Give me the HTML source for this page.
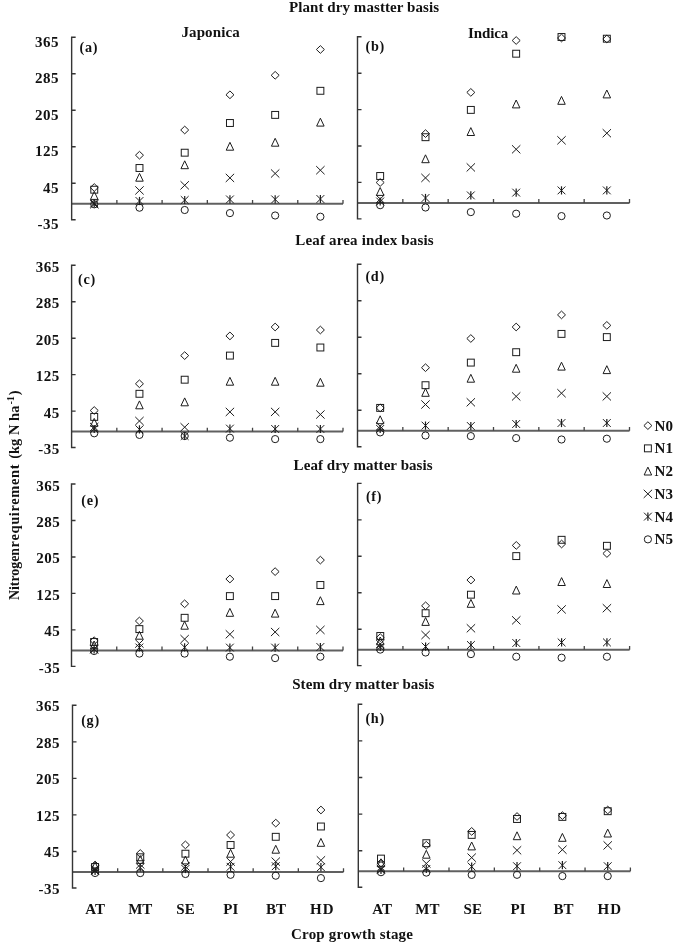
<!DOCTYPE html>
<html><head><meta charset="utf-8"><style>
html,body{margin:0;padding:0;background:#fff;}
svg{display:block;will-change:transform;}
text{font-family:"Liberation Serif", serif;font-weight:bold;fill:#111;}
.m{fill:none;stroke:#1c1c1c;stroke-width:1.0;}
.ax{fill:none;stroke:#353535;stroke-width:1.4;}
.zl{fill:none;stroke:#606060;stroke-width:2;}
.xt{fill:none;stroke:#444;stroke-width:1.3;}
</style></head><body>
<svg width="685" height="944" viewBox="0 0 685 944">

<path d="M71.65 203.85H343.00" class="zl"/>
<path d="M116.88 203.85V200.05M162.10 203.85V200.05M207.33 203.85V200.05M252.55 203.85V200.05M297.77 203.85V200.05M343.00 203.85V200.05" class="xt"/>
<path d="M75.65 37.30H71.65V219.82H75.65M71.65 73.80H75.65M71.65 110.31H75.65M71.65 146.81H75.65M71.65 183.32H75.65" class="ax"/>
<path d="M94.26 183.65L98.26 187.50L94.26 191.35L90.26 187.50Z" class="m"/>
<rect x="90.81" y="186.25" width="6.9" height="6.9" class="m"/>
<path d="M94.26 191.50L98.01 199.40L90.51 199.40Z" class="m"/>
<path d="M90.06 200.20L98.46 208.40M98.46 200.20L90.06 208.40" class="m"/>
<path d="M90.36 199.40L98.16 207.20M98.16 199.40L90.36 207.20" class="m"/><path d="M94.26 199.20L94.26 207.40" class="m" style="stroke-width:1.2"/>
<circle cx="94.26" cy="204.30" r="3.6" class="m"/>
<path d="M139.49 151.35L143.49 155.20L139.49 159.05L135.49 155.20Z" class="m"/>
<rect x="136.04" y="164.55" width="6.9" height="6.9" class="m"/>
<path d="M139.49 173.30L143.24 181.20L135.74 181.20Z" class="m"/>
<path d="M135.29 186.30L143.69 194.50M143.69 186.30L135.29 194.50" class="m"/>
<path d="M135.59 197.10L143.39 204.90M143.39 197.10L135.59 204.90" class="m"/><path d="M139.49 196.90L139.49 205.10" class="m" style="stroke-width:1.2"/>
<circle cx="139.49" cy="207.70" r="3.6" class="m"/>
<path d="M184.71 126.15L188.71 130.00L184.71 133.85L180.71 130.00Z" class="m"/>
<rect x="181.26" y="149.25" width="6.9" height="6.9" class="m"/>
<path d="M184.71 160.80L188.46 168.70L180.96 168.70Z" class="m"/>
<path d="M180.51 181.20L188.91 189.40M188.91 181.20L180.51 189.40" class="m"/>
<path d="M180.81 196.10L188.61 203.90M188.61 196.10L180.81 203.90" class="m"/><path d="M184.71 195.90L184.71 204.10" class="m" style="stroke-width:1.2"/>
<circle cx="184.71" cy="210.00" r="3.6" class="m"/>
<path d="M229.94 90.95L233.94 94.80L229.94 98.65L225.94 94.80Z" class="m"/>
<rect x="226.49" y="119.55" width="6.9" height="6.9" class="m"/>
<path d="M229.94 142.30L233.69 150.20L226.19 150.20Z" class="m"/>
<path d="M225.74 173.80L234.14 182.00M234.14 173.80L225.74 182.00" class="m"/>
<path d="M226.04 195.50L233.84 203.30M233.84 195.50L226.04 203.30" class="m"/><path d="M229.94 195.30L229.94 203.50" class="m" style="stroke-width:1.2"/>
<circle cx="229.94" cy="213.10" r="3.6" class="m"/>
<path d="M275.16 71.45L279.16 75.30L275.16 79.15L271.16 75.30Z" class="m"/>
<rect x="271.71" y="111.45" width="6.9" height="6.9" class="m"/>
<path d="M275.16 138.30L278.91 146.20L271.41 146.20Z" class="m"/>
<path d="M270.96 169.40L279.36 177.60M279.36 169.40L270.96 177.60" class="m"/>
<path d="M271.26 195.50L279.06 203.30M279.06 195.50L271.26 203.30" class="m"/><path d="M275.16 195.30L275.16 203.50" class="m" style="stroke-width:1.2"/>
<circle cx="275.16" cy="215.50" r="3.6" class="m"/>
<path d="M320.39 45.65L324.39 49.50L320.39 53.35L316.39 49.50Z" class="m"/>
<rect x="316.94" y="87.35" width="6.9" height="6.9" class="m"/>
<path d="M320.39 118.20L324.14 126.10L316.64 126.10Z" class="m"/>
<path d="M316.19 166.10L324.59 174.30M324.59 166.10L316.19 174.30" class="m"/>
<path d="M316.49 195.10L324.29 202.90M324.29 195.10L316.49 202.90" class="m"/><path d="M320.39 194.90L320.39 203.10" class="m" style="stroke-width:1.2"/>
<circle cx="320.39" cy="216.70" r="3.6" class="m"/>
<text x="79.5" y="51.9" font-size="14.2" letter-spacing="0.7">(a)</text>
<text x="59.10" y="46.80" font-size="15" letter-spacing="0.5" text-anchor="end">365</text>
<text x="59.10" y="83.30" font-size="15" letter-spacing="0.5" text-anchor="end">285</text>
<text x="59.10" y="119.81" font-size="15" letter-spacing="0.5" text-anchor="end">205</text>
<text x="59.10" y="156.31" font-size="15" letter-spacing="0.5" text-anchor="end">125</text>
<text x="59.10" y="192.82" font-size="15" letter-spacing="0.5" text-anchor="end">45</text>
<text x="59.10" y="229.32" font-size="15" letter-spacing="0.5" text-anchor="end">-35</text>
<path d="M357.50 202.90H629.50" class="zl"/>
<path d="M402.83 202.90V199.10M448.17 202.90V199.10M493.50 202.90V199.10M538.83 202.90V199.10M584.17 202.90V199.10M629.50 202.90V199.10" class="xt"/>
<path d="M361.50 36.80H357.50V218.83H361.50M357.50 73.21H361.50M357.50 109.61H361.50M357.50 146.02H361.50M357.50 182.42H361.50" class="ax"/>
<path d="M380.17 178.65L384.17 182.50L380.17 186.35L376.17 182.50Z" class="m"/>
<rect x="376.72" y="172.55" width="6.9" height="6.9" class="m"/>
<path d="M380.17 187.50L383.92 195.40L376.42 195.40Z" class="m"/>
<path d="M375.97 194.90L384.37 203.10M384.37 194.90L375.97 203.10" class="m"/>
<path d="M376.27 197.60L384.07 205.40M384.07 197.60L376.27 205.40" class="m"/><path d="M380.17 197.40L380.17 205.60" class="m" style="stroke-width:1.2"/>
<circle cx="380.17" cy="205.20" r="3.6" class="m"/>
<path d="M425.50 129.75L429.50 133.60L425.50 137.45L421.50 133.60Z" class="m"/>
<rect x="422.05" y="133.75" width="6.9" height="6.9" class="m"/>
<path d="M425.50 154.80L429.25 162.70L421.75 162.70Z" class="m"/>
<path d="M421.30 173.80L429.70 182.00M429.70 173.80L421.30 182.00" class="m"/>
<path d="M421.60 194.10L429.40 201.90M429.40 194.10L421.60 201.90" class="m"/><path d="M425.50 193.90L425.50 202.10" class="m" style="stroke-width:1.2"/>
<circle cx="425.50" cy="207.50" r="3.6" class="m"/>
<path d="M470.83 88.55L474.83 92.40L470.83 96.25L466.83 92.40Z" class="m"/>
<rect x="467.38" y="106.45" width="6.9" height="6.9" class="m"/>
<path d="M470.83 127.60L474.58 135.50L467.08 135.50Z" class="m"/>
<path d="M466.63 163.30L475.03 171.50M475.03 163.30L466.63 171.50" class="m"/>
<path d="M466.93 191.50L474.73 199.30M474.73 191.50L466.93 199.30" class="m"/><path d="M470.83 191.30L470.83 199.50" class="m" style="stroke-width:1.2"/>
<circle cx="470.83" cy="212.10" r="3.6" class="m"/>
<path d="M516.17 36.65L520.17 40.50L516.17 44.35L512.17 40.50Z" class="m"/>
<rect x="512.72" y="50.25" width="6.9" height="6.9" class="m"/>
<path d="M516.17 100.00L519.92 107.90L512.42 107.90Z" class="m"/>
<path d="M511.97 145.20L520.37 153.40M520.37 145.20L511.97 153.40" class="m"/>
<path d="M512.27 188.70L520.07 196.50M520.07 188.70L512.27 196.50" class="m"/><path d="M516.17 188.50L516.17 196.70" class="m" style="stroke-width:1.2"/>
<circle cx="516.17" cy="213.70" r="3.6" class="m"/>
<path d="M561.50 34.15L565.50 38.00L561.50 41.85L557.50 38.00Z" class="m"/>
<rect x="558.05" y="33.55" width="6.9" height="6.9" class="m"/>
<path d="M561.50 96.40L565.25 104.30L557.75 104.30Z" class="m"/>
<path d="M557.30 136.20L565.70 144.40M565.70 136.20L557.30 144.40" class="m"/>
<path d="M557.60 186.50L565.40 194.30M565.40 186.50L557.60 194.30" class="m"/><path d="M561.50 186.30L561.50 194.50" class="m" style="stroke-width:1.2"/>
<circle cx="561.50" cy="216.10" r="3.6" class="m"/>
<path d="M606.83 35.15L610.83 39.00L606.83 42.85L602.83 39.00Z" class="m"/>
<rect x="603.38" y="35.25" width="6.9" height="6.9" class="m"/>
<path d="M606.83 90.00L610.58 97.90L603.08 97.90Z" class="m"/>
<path d="M602.63 129.10L611.03 137.30M611.03 129.10L602.63 137.30" class="m"/>
<path d="M602.93 186.50L610.73 194.30M610.73 186.50L602.93 194.30" class="m"/><path d="M606.83 186.30L606.83 194.50" class="m" style="stroke-width:1.2"/>
<circle cx="606.83" cy="215.50" r="3.6" class="m"/>
<text x="365.6" y="51.2" font-size="14.2" letter-spacing="0.7">(b)</text>
<path d="M71.60 431.60H343.00" class="zl"/>
<path d="M116.83 431.60V427.80M162.07 431.60V427.80M207.30 431.60V427.80M252.53 431.60V427.80M297.77 431.60V427.80M343.00 431.60V427.80" class="xt"/>
<path d="M75.60 265.30H71.60V447.55H75.60M71.60 301.75H75.60M71.60 338.20H75.60M71.60 374.65H75.60M71.60 411.10H75.60" class="ax"/>
<path d="M94.22 406.65L98.22 410.50L94.22 414.35L90.22 410.50Z" class="m"/>
<rect x="90.77" y="413.45" width="6.9" height="6.9" class="m"/>
<path d="M94.22 418.40L97.97 426.30L90.47 426.30Z" class="m"/>
<path d="M90.02 422.90L98.42 431.10M98.42 422.90L90.02 431.10" class="m"/>
<path d="M90.32 425.10L98.12 432.90M98.12 425.10L90.32 432.90" class="m"/><path d="M94.22 424.90L94.22 433.10" class="m" style="stroke-width:1.2"/>
<circle cx="94.22" cy="433.30" r="3.6" class="m"/>
<path d="M139.45 379.95L143.45 383.80L139.45 387.65L135.45 383.80Z" class="m"/>
<rect x="136.00" y="390.35" width="6.9" height="6.9" class="m"/>
<path d="M139.45 400.90L143.20 408.80L135.70 408.80Z" class="m"/>
<path d="M135.25 416.90L143.65 425.10M143.65 416.90L135.25 425.10" class="m"/>
<path d="M135.55 425.50L143.35 433.30M143.35 425.50L135.55 433.30" class="m"/><path d="M139.45 425.30L139.45 433.50" class="m" style="stroke-width:1.2"/>
<circle cx="139.45" cy="434.90" r="3.6" class="m"/>
<path d="M184.68 351.75L188.68 355.60L184.68 359.45L180.68 355.60Z" class="m"/>
<rect x="181.23" y="376.25" width="6.9" height="6.9" class="m"/>
<path d="M184.68 397.90L188.43 405.80L180.93 405.80Z" class="m"/>
<path d="M180.48 423.10L188.88 431.30M188.88 423.10L180.48 431.30" class="m"/>
<path d="M180.78 432.10L188.58 439.90M188.58 432.10L180.78 439.90" class="m"/><path d="M184.68 431.90L184.68 440.10" class="m" style="stroke-width:1.2"/>
<circle cx="184.68" cy="436.00" r="3.6" class="m"/>
<path d="M229.92 332.05L233.92 335.90L229.92 339.75L225.92 335.90Z" class="m"/>
<rect x="226.47" y="352.15" width="6.9" height="6.9" class="m"/>
<path d="M229.92 377.30L233.67 385.20L226.17 385.20Z" class="m"/>
<path d="M225.72 407.80L234.12 416.00M234.12 407.80L225.72 416.00" class="m"/>
<path d="M226.02 424.70L233.82 432.50M233.82 424.70L226.02 432.50" class="m"/><path d="M229.92 424.50L229.92 432.70" class="m" style="stroke-width:1.2"/>
<circle cx="229.92" cy="437.70" r="3.6" class="m"/>
<path d="M275.15 323.15L279.15 327.00L275.15 330.85L271.15 327.00Z" class="m"/>
<rect x="271.70" y="339.45" width="6.9" height="6.9" class="m"/>
<path d="M275.15 377.30L278.90 385.20L271.40 385.20Z" class="m"/>
<path d="M270.95 407.80L279.35 416.00M279.35 407.80L270.95 416.00" class="m"/>
<path d="M271.25 425.10L279.05 432.90M279.05 425.10L271.25 432.90" class="m"/><path d="M275.15 424.90L275.15 433.10" class="m" style="stroke-width:1.2"/>
<circle cx="275.15" cy="439.10" r="3.6" class="m"/>
<path d="M320.38 326.15L324.38 330.00L320.38 333.85L316.38 330.00Z" class="m"/>
<rect x="316.93" y="344.05" width="6.9" height="6.9" class="m"/>
<path d="M320.38 378.30L324.13 386.20L316.63 386.20Z" class="m"/>
<path d="M316.18 410.40L324.58 418.60M324.58 410.40L316.18 418.60" class="m"/>
<path d="M316.48 425.10L324.28 432.90M324.28 425.10L316.48 432.90" class="m"/><path d="M320.38 424.90L320.38 433.10" class="m" style="stroke-width:1.2"/>
<circle cx="320.38" cy="439.10" r="3.6" class="m"/>
<text x="78.0" y="283.5" font-size="14.2" letter-spacing="0.7">(c)</text>
<text x="59.80" y="271.70" font-size="15" letter-spacing="0.5" text-anchor="end">365</text>
<text x="59.80" y="308.15" font-size="15" letter-spacing="0.5" text-anchor="end">285</text>
<text x="59.80" y="344.60" font-size="15" letter-spacing="0.5" text-anchor="end">205</text>
<text x="59.80" y="381.05" font-size="15" letter-spacing="0.5" text-anchor="end">125</text>
<text x="59.80" y="417.50" font-size="15" letter-spacing="0.5" text-anchor="end">45</text>
<text x="59.80" y="453.95" font-size="15" letter-spacing="0.5" text-anchor="end">-35</text>
<path d="M357.50 430.80H629.50" class="zl"/>
<path d="M402.83 430.80V427.00M448.17 430.80V427.00M493.50 430.80V427.00M538.83 430.80V427.00M584.17 430.80V427.00M629.50 430.80V427.00" class="xt"/>
<path d="M361.50 264.30H357.50V446.77H361.50M357.50 300.79H361.50M357.50 337.29H361.50M357.50 373.78H361.50M357.50 410.27H361.50" class="ax"/>
<path d="M380.17 404.05L384.17 407.90L380.17 411.75L376.17 407.90Z" class="m"/>
<rect x="376.72" y="404.45" width="6.9" height="6.9" class="m"/>
<path d="M380.17 415.80L383.92 423.70L376.42 423.70Z" class="m"/>
<path d="M375.97 422.20L384.37 430.40M384.37 422.20L375.97 430.40" class="m"/>
<path d="M376.27 425.10L384.07 432.90M384.07 425.10L376.27 432.90" class="m"/><path d="M380.17 424.90L380.17 433.10" class="m" style="stroke-width:1.2"/>
<circle cx="380.17" cy="432.40" r="3.6" class="m"/>
<path d="M425.50 363.85L429.50 367.70L425.50 371.55L421.50 367.70Z" class="m"/>
<rect x="422.05" y="381.75" width="6.9" height="6.9" class="m"/>
<path d="M425.50 388.40L429.25 396.30L421.75 396.30Z" class="m"/>
<path d="M421.30 400.40L429.70 408.60M429.70 400.40L421.30 408.60" class="m"/>
<path d="M421.60 421.70L429.40 429.50M429.40 421.70L421.60 429.50" class="m"/><path d="M425.50 421.50L425.50 429.70" class="m" style="stroke-width:1.2"/>
<circle cx="425.50" cy="435.50" r="3.6" class="m"/>
<path d="M470.83 334.65L474.83 338.50L470.83 342.35L466.83 338.50Z" class="m"/>
<rect x="467.38" y="359.15" width="6.9" height="6.9" class="m"/>
<path d="M470.83 374.30L474.58 382.20L467.08 382.20Z" class="m"/>
<path d="M466.63 398.20L475.03 406.40M475.03 398.20L466.63 406.40" class="m"/>
<path d="M466.93 422.10L474.73 429.90M474.73 422.10L466.93 429.90" class="m"/><path d="M470.83 421.90L470.83 430.10" class="m" style="stroke-width:1.2"/>
<circle cx="470.83" cy="436.10" r="3.6" class="m"/>
<path d="M516.17 323.15L520.17 327.00L516.17 330.85L512.17 327.00Z" class="m"/>
<rect x="512.72" y="348.75" width="6.9" height="6.9" class="m"/>
<path d="M516.17 364.30L519.92 372.20L512.42 372.20Z" class="m"/>
<path d="M511.97 392.30L520.37 400.50M520.37 392.30L511.97 400.50" class="m"/>
<path d="M512.27 420.10L520.07 427.90M520.07 420.10L512.27 427.90" class="m"/><path d="M516.17 419.90L516.17 428.10" class="m" style="stroke-width:1.2"/>
<circle cx="516.17" cy="438.10" r="3.6" class="m"/>
<path d="M561.50 311.05L565.50 314.90L561.50 318.75L557.50 314.90Z" class="m"/>
<rect x="558.05" y="330.45" width="6.9" height="6.9" class="m"/>
<path d="M561.50 362.20L565.25 370.10L557.75 370.10Z" class="m"/>
<path d="M557.30 389.10L565.70 397.30M565.70 389.10L557.30 397.30" class="m"/>
<path d="M557.60 419.10L565.40 426.90M565.40 419.10L557.60 426.90" class="m"/><path d="M561.50 418.90L561.50 427.10" class="m" style="stroke-width:1.2"/>
<circle cx="561.50" cy="439.50" r="3.6" class="m"/>
<path d="M606.83 321.55L610.83 325.40L606.83 329.25L602.83 325.40Z" class="m"/>
<rect x="603.38" y="333.65" width="6.9" height="6.9" class="m"/>
<path d="M606.83 365.70L610.58 373.60L603.08 373.60Z" class="m"/>
<path d="M602.63 392.30L611.03 400.50M611.03 392.30L602.63 400.50" class="m"/>
<path d="M602.93 419.10L610.73 426.90M610.73 419.10L602.93 426.90" class="m"/><path d="M606.83 418.90L606.83 427.10" class="m" style="stroke-width:1.2"/>
<circle cx="606.83" cy="438.70" r="3.6" class="m"/>
<text x="365.4" y="281.2" font-size="14.2" letter-spacing="0.7">(d)</text>
<path d="M71.50 650.40H343.00" class="zl"/>
<path d="M116.75 650.40V646.60M162.00 650.40V646.60M207.25 650.40V646.60M252.50 650.40V646.60M297.75 650.40V646.60M343.00 650.40V646.60" class="xt"/>
<path d="M75.50 484.00H71.50V666.36H75.50M71.50 520.47H75.50M71.50 556.94H75.50M71.50 593.41H75.50M71.50 629.88H75.50" class="ax"/>
<path d="M94.12 636.85L98.12 640.70L94.12 644.55L90.12 640.70Z" class="m"/>
<rect x="90.67" y="638.55" width="6.9" height="6.9" class="m"/>
<path d="M94.12 641.00L97.88 648.90L90.38 648.90Z" class="m"/>
<path d="M89.92 644.90L98.33 653.10M98.33 644.90L89.92 653.10" class="m"/>
<path d="M90.22 645.60L98.03 653.40M98.03 645.60L90.22 653.40" class="m"/><path d="M94.12 645.40L94.12 653.60" class="m" style="stroke-width:1.2"/>
<circle cx="94.12" cy="651.00" r="3.6" class="m"/>
<path d="M139.38 617.15L143.38 621.00L139.38 624.85L135.38 621.00Z" class="m"/>
<rect x="135.93" y="625.65" width="6.9" height="6.9" class="m"/>
<path d="M139.38 631.30L143.12 639.20L135.62 639.20Z" class="m"/>
<path d="M135.18 639.50L143.57 647.70M143.57 639.50L135.18 647.70" class="m"/>
<path d="M135.47 643.60L143.28 651.40M143.28 643.60L135.47 651.40" class="m"/><path d="M139.38 643.40L139.38 651.60" class="m" style="stroke-width:1.2"/>
<circle cx="139.38" cy="653.60" r="3.6" class="m"/>
<path d="M184.62 599.95L188.62 603.80L184.62 607.65L180.62 603.80Z" class="m"/>
<rect x="181.18" y="614.35" width="6.9" height="6.9" class="m"/>
<path d="M184.62 621.30L188.38 629.20L180.88 629.20Z" class="m"/>
<path d="M180.43 635.00L188.82 643.20M188.82 635.00L180.43 643.20" class="m"/>
<path d="M180.72 643.40L188.53 651.20M188.53 643.40L180.72 651.20" class="m"/><path d="M184.62 643.20L184.62 651.40" class="m" style="stroke-width:1.2"/>
<circle cx="184.62" cy="653.60" r="3.6" class="m"/>
<path d="M229.88 575.15L233.88 579.00L229.88 582.85L225.88 579.00Z" class="m"/>
<rect x="226.43" y="592.65" width="6.9" height="6.9" class="m"/>
<path d="M229.88 608.40L233.62 616.30L226.12 616.30Z" class="m"/>
<path d="M225.68 630.20L234.07 638.40M234.07 630.20L225.68 638.40" class="m"/>
<path d="M225.97 643.70L233.78 651.50M233.78 643.70L225.97 651.50" class="m"/><path d="M229.88 643.50L229.88 651.70" class="m" style="stroke-width:1.2"/>
<circle cx="229.88" cy="656.70" r="3.6" class="m"/>
<path d="M275.12 567.75L279.12 571.60L275.12 575.45L271.12 571.60Z" class="m"/>
<rect x="271.68" y="592.65" width="6.9" height="6.9" class="m"/>
<path d="M275.12 609.20L278.88 617.10L271.38 617.10Z" class="m"/>
<path d="M270.93 627.90L279.32 636.10M279.32 627.90L270.93 636.10" class="m"/>
<path d="M271.23 643.70L279.02 651.50M279.02 643.70L271.23 651.50" class="m"/><path d="M275.12 643.50L275.12 651.70" class="m" style="stroke-width:1.2"/>
<circle cx="275.12" cy="658.10" r="3.6" class="m"/>
<path d="M320.38 556.25L324.38 560.10L320.38 563.95L316.38 560.10Z" class="m"/>
<rect x="316.93" y="581.55" width="6.9" height="6.9" class="m"/>
<path d="M320.38 596.70L324.12 604.60L316.62 604.60Z" class="m"/>
<path d="M316.18 625.80L324.57 634.00M324.57 625.80L316.18 634.00" class="m"/>
<path d="M316.48 643.10L324.27 650.90M324.27 643.10L316.48 650.90" class="m"/><path d="M320.38 642.90L320.38 651.10" class="m" style="stroke-width:1.2"/>
<circle cx="320.38" cy="656.70" r="3.6" class="m"/>
<text x="81.3" y="505.0" font-size="14.2" letter-spacing="0.7">(e)</text>
<text x="60.30" y="490.50" font-size="15" letter-spacing="0.5" text-anchor="end">365</text>
<text x="60.30" y="526.97" font-size="15" letter-spacing="0.5" text-anchor="end">285</text>
<text x="60.30" y="563.44" font-size="15" letter-spacing="0.5" text-anchor="end">205</text>
<text x="60.30" y="599.91" font-size="15" letter-spacing="0.5" text-anchor="end">125</text>
<text x="60.30" y="636.38" font-size="15" letter-spacing="0.5" text-anchor="end">45</text>
<text x="60.30" y="672.86" font-size="15" letter-spacing="0.5" text-anchor="end">-35</text>
<path d="M357.60 649.70H629.60" class="zl"/>
<path d="M402.93 649.70V645.90M448.27 649.70V645.90M493.60 649.70V645.90M538.93 649.70V645.90M584.27 649.70V645.90M629.60 649.70V645.90" class="xt"/>
<path d="M361.60 483.40H357.60V665.65H361.60M357.60 519.85H361.60M357.60 556.30H361.60M357.60 592.75H361.60M357.60 629.20H361.60" class="ax"/>
<path d="M380.27 633.75L384.27 637.60L380.27 641.45L376.27 637.60Z" class="m"/>
<rect x="376.82" y="632.55" width="6.9" height="6.9" class="m"/>
<path d="M380.27 637.00L384.02 644.90L376.52 644.90Z" class="m"/>
<path d="M376.07 639.90L384.47 648.10M384.47 639.90L376.07 648.10" class="m"/>
<path d="M376.37 643.10L384.17 650.90M384.17 643.10L376.37 650.90" class="m"/><path d="M380.27 642.90L380.27 651.10" class="m" style="stroke-width:1.2"/>
<circle cx="380.27" cy="649.60" r="3.6" class="m"/>
<path d="M425.60 601.95L429.60 605.80L425.60 609.65L421.60 605.80Z" class="m"/>
<rect x="422.15" y="609.75" width="6.9" height="6.9" class="m"/>
<path d="M425.60 617.50L429.35 625.40L421.85 625.40Z" class="m"/>
<path d="M421.40 630.90L429.80 639.10M429.80 630.90L421.40 639.10" class="m"/>
<path d="M421.70 642.70L429.50 650.50M429.50 642.70L421.70 650.50" class="m"/><path d="M425.60 642.50L425.60 650.70" class="m" style="stroke-width:1.2"/>
<circle cx="425.60" cy="652.50" r="3.6" class="m"/>
<path d="M470.93 576.15L474.93 580.00L470.93 583.85L466.93 580.00Z" class="m"/>
<rect x="467.48" y="591.25" width="6.9" height="6.9" class="m"/>
<path d="M470.93 599.40L474.68 607.30L467.18 607.30Z" class="m"/>
<path d="M466.73 624.20L475.13 632.40M475.13 624.20L466.73 632.40" class="m"/>
<path d="M467.03 641.10L474.83 648.90M474.83 641.10L467.03 648.90" class="m"/><path d="M470.93 640.90L470.93 649.10" class="m" style="stroke-width:1.2"/>
<circle cx="470.93" cy="654.10" r="3.6" class="m"/>
<path d="M516.27 541.55L520.27 545.40L516.27 549.25L512.27 545.40Z" class="m"/>
<rect x="512.82" y="552.65" width="6.9" height="6.9" class="m"/>
<path d="M516.27 586.10L520.02 594.00L512.52 594.00Z" class="m"/>
<path d="M512.07 616.20L520.47 624.40M520.47 616.20L512.07 624.40" class="m"/>
<path d="M512.37 639.10L520.17 646.90M520.17 639.10L512.37 646.90" class="m"/><path d="M516.27 638.90L516.27 647.10" class="m" style="stroke-width:1.2"/>
<circle cx="516.27" cy="656.70" r="3.6" class="m"/>
<path d="M561.60 540.15L565.60 544.00L561.60 547.85L557.60 544.00Z" class="m"/>
<rect x="558.15" y="536.35" width="6.9" height="6.9" class="m"/>
<path d="M561.60 577.60L565.35 585.50L557.85 585.50Z" class="m"/>
<path d="M557.40 605.30L565.80 613.50M565.80 605.30L557.40 613.50" class="m"/>
<path d="M557.70 638.50L565.50 646.30M565.50 638.50L557.70 646.30" class="m"/><path d="M561.60 638.30L561.60 646.50" class="m" style="stroke-width:1.2"/>
<circle cx="561.60" cy="657.70" r="3.6" class="m"/>
<path d="M606.93 549.65L610.93 553.50L606.93 557.35L602.93 553.50Z" class="m"/>
<rect x="603.48" y="542.35" width="6.9" height="6.9" class="m"/>
<path d="M606.93 579.60L610.68 587.50L603.18 587.50Z" class="m"/>
<path d="M602.73 604.10L611.13 612.30M611.13 604.10L602.73 612.30" class="m"/>
<path d="M603.03 638.50L610.83 646.30M610.83 638.50L603.03 646.30" class="m"/><path d="M606.93 638.30L606.93 646.50" class="m" style="stroke-width:1.2"/>
<circle cx="606.93" cy="656.70" r="3.6" class="m"/>
<text x="365.9" y="500.7" font-size="14.2" letter-spacing="0.7">(f)</text>
<path d="M72.50 872.00H343.50" class="zl"/>
<path d="M117.67 872.00V868.20M162.83 872.00V868.20M208.00 872.00V868.20M253.17 872.00V868.20M298.33 872.00V868.20M343.50 872.00V868.20" class="xt"/>
<path d="M76.50 705.30H72.50V887.98H76.50M72.50 741.84H76.50M72.50 778.37H76.50M72.50 814.91H76.50M72.50 851.45H76.50" class="ax"/>
<path d="M95.08 861.15L99.08 865.00L95.08 868.85L91.08 865.00Z" class="m"/>
<rect x="91.63" y="863.55" width="6.9" height="6.9" class="m"/>
<path d="M95.08 862.00L98.83 869.90L91.33 869.90Z" class="m"/>
<path d="M90.88 865.90L99.28 874.10M99.28 865.90L90.88 874.10" class="m"/>
<path d="M91.18 867.10L98.98 874.90M98.98 867.10L91.18 874.90" class="m"/><path d="M95.08 866.90L95.08 875.10" class="m" style="stroke-width:1.2"/>
<circle cx="95.08" cy="873.00" r="3.6" class="m"/>
<path d="M140.25 849.65L144.25 853.50L140.25 857.35L136.25 853.50Z" class="m"/>
<rect x="136.80" y="853.85" width="6.9" height="6.9" class="m"/>
<path d="M140.25 855.50L144.00 863.40L136.50 863.40Z" class="m"/>
<path d="M136.05 860.40L144.45 868.60M144.45 860.40L136.05 868.60" class="m"/>
<path d="M136.35 863.60L144.15 871.40M144.15 863.60L136.35 871.40" class="m"/><path d="M140.25 863.40L140.25 871.60" class="m" style="stroke-width:1.2"/>
<circle cx="140.25" cy="873.10" r="3.6" class="m"/>
<path d="M185.42 841.05L189.42 844.90L185.42 848.75L181.42 844.90Z" class="m"/>
<rect x="181.97" y="850.25" width="6.9" height="6.9" class="m"/>
<path d="M185.42 856.00L189.17 863.90L181.67 863.90Z" class="m"/>
<path d="M181.22 862.40L189.62 870.60M189.62 862.40L181.22 870.60" class="m"/>
<path d="M181.52 865.10L189.32 872.90M189.32 865.10L181.52 872.90" class="m"/><path d="M185.42 864.90L185.42 873.10" class="m" style="stroke-width:1.2"/>
<circle cx="185.42" cy="874.00" r="3.6" class="m"/>
<path d="M230.58 831.15L234.58 835.00L230.58 838.85L226.58 835.00Z" class="m"/>
<rect x="227.13" y="841.55" width="6.9" height="6.9" class="m"/>
<path d="M230.58 849.30L234.33 857.20L226.83 857.20Z" class="m"/>
<path d="M226.38 857.50L234.78 865.70M234.78 857.50L226.38 865.70" class="m"/>
<path d="M226.68 862.90L234.48 870.70M234.48 862.90L226.68 870.70" class="m"/><path d="M230.58 862.70L230.58 870.90" class="m" style="stroke-width:1.2"/>
<circle cx="230.58" cy="874.80" r="3.6" class="m"/>
<path d="M275.75 819.25L279.75 823.10L275.75 826.95L271.75 823.10Z" class="m"/>
<rect x="272.30" y="833.35" width="6.9" height="6.9" class="m"/>
<path d="M275.75 845.30L279.50 853.20L272.00 853.20Z" class="m"/>
<path d="M271.55 857.50L279.95 865.70M279.95 857.50L271.55 865.70" class="m"/>
<path d="M271.85 862.30L279.65 870.10M279.65 862.30L271.85 870.10" class="m"/><path d="M275.75 862.10L275.75 870.30" class="m" style="stroke-width:1.2"/>
<circle cx="275.75" cy="875.70" r="3.6" class="m"/>
<path d="M320.92 806.15L324.92 810.00L320.92 813.85L316.92 810.00Z" class="m"/>
<rect x="317.47" y="823.05" width="6.9" height="6.9" class="m"/>
<path d="M320.92 838.40L324.67 846.30L317.17 846.30Z" class="m"/>
<path d="M316.72 856.20L325.12 864.40M325.12 856.20L316.72 864.40" class="m"/>
<path d="M317.02 863.30L324.82 871.10M324.82 863.30L317.02 871.10" class="m"/><path d="M320.92 863.10L320.92 871.30" class="m" style="stroke-width:1.2"/>
<circle cx="320.92" cy="878.10" r="3.6" class="m"/>
<text x="81.2" y="724.7" font-size="14.2" letter-spacing="0.7">(g)</text>
<text x="60.00" y="711.30" font-size="15" letter-spacing="0.5" text-anchor="end">365</text>
<text x="60.00" y="747.84" font-size="15" letter-spacing="0.5" text-anchor="end">285</text>
<text x="60.00" y="784.37" font-size="15" letter-spacing="0.5" text-anchor="end">205</text>
<text x="60.00" y="820.91" font-size="15" letter-spacing="0.5" text-anchor="end">125</text>
<text x="60.00" y="857.45" font-size="15" letter-spacing="0.5" text-anchor="end">45</text>
<text x="60.00" y="893.98" font-size="15" letter-spacing="0.5" text-anchor="end">-35</text>
<path d="M358.30 871.30H630.40" class="zl"/>
<path d="M403.65 871.30V867.50M449.00 871.30V867.50M494.35 871.30V867.50M539.70 871.30V867.50M585.05 871.30V867.50M630.40 871.30V867.50" class="xt"/>
<path d="M362.30 704.30H358.30V887.31H362.30M358.30 740.90H362.30M358.30 777.51H362.30M358.30 814.11H362.30M358.30 850.71H362.30" class="ax"/>
<path d="M380.98 859.15L384.98 863.00L380.98 866.85L376.98 863.00Z" class="m"/>
<rect x="377.53" y="855.15" width="6.9" height="6.9" class="m"/>
<path d="M380.98 858.80L384.73 866.70L377.23 866.70Z" class="m"/>
<path d="M376.78 864.70L385.18 872.90M385.18 864.70L376.78 872.90" class="m"/>
<path d="M377.08 865.90L384.88 873.70M384.88 865.90L377.08 873.70" class="m"/><path d="M380.98 865.70L380.98 873.90" class="m" style="stroke-width:1.2"/>
<circle cx="380.98" cy="872.20" r="3.6" class="m"/>
<path d="M426.32 841.35L430.32 845.20L426.32 849.05L422.32 845.20Z" class="m"/>
<rect x="422.88" y="839.75" width="6.9" height="6.9" class="m"/>
<path d="M426.32 850.30L430.07 858.20L422.57 858.20Z" class="m"/>
<path d="M422.12 859.40L430.52 867.60M430.52 859.40L422.12 867.60" class="m"/>
<path d="M422.43 865.10L430.22 872.90M430.22 865.10L422.43 872.90" class="m"/><path d="M426.32 864.90L426.32 873.10" class="m" style="stroke-width:1.2"/>
<circle cx="426.32" cy="872.60" r="3.6" class="m"/>
<path d="M471.68 827.55L475.68 831.40L471.68 835.25L467.68 831.40Z" class="m"/>
<rect x="468.23" y="831.45" width="6.9" height="6.9" class="m"/>
<path d="M471.68 842.00L475.43 849.90L467.93 849.90Z" class="m"/>
<path d="M467.48 853.50L475.88 861.70M475.88 853.50L467.48 861.70" class="m"/>
<path d="M467.78 862.70L475.57 870.50M475.57 862.70L467.78 870.50" class="m"/><path d="M471.68 862.50L471.68 870.70" class="m" style="stroke-width:1.2"/>
<circle cx="471.68" cy="874.90" r="3.6" class="m"/>
<path d="M517.02 812.65L521.02 816.50L517.02 820.35L513.02 816.50Z" class="m"/>
<rect x="513.57" y="815.55" width="6.9" height="6.9" class="m"/>
<path d="M517.02 831.80L520.77 839.70L513.27 839.70Z" class="m"/>
<path d="M512.82 846.20L521.23 854.40M521.23 846.20L512.82 854.40" class="m"/>
<path d="M513.12 862.30L520.92 870.10M520.92 862.30L513.12 870.10" class="m"/><path d="M517.02 862.10L517.02 870.30" class="m" style="stroke-width:1.2"/>
<circle cx="517.02" cy="874.80" r="3.6" class="m"/>
<path d="M562.38 811.75L566.38 815.60L562.38 819.45L558.38 815.60Z" class="m"/>
<rect x="558.92" y="813.45" width="6.9" height="6.9" class="m"/>
<path d="M562.38 833.40L566.12 841.30L558.62 841.30Z" class="m"/>
<path d="M558.17 845.60L566.58 853.80M566.58 845.60L558.17 853.80" class="m"/>
<path d="M558.48 861.30L566.27 869.10M566.27 861.30L558.48 869.10" class="m"/><path d="M562.38 861.10L562.38 869.30" class="m" style="stroke-width:1.2"/>
<circle cx="562.38" cy="876.10" r="3.6" class="m"/>
<path d="M607.72 806.15L611.72 810.00L607.72 813.85L603.72 810.00Z" class="m"/>
<rect x="604.27" y="807.75" width="6.9" height="6.9" class="m"/>
<path d="M607.72 829.10L611.47 837.00L603.97 837.00Z" class="m"/>
<path d="M603.52 841.30L611.92 849.50M611.92 841.30L603.52 849.50" class="m"/>
<path d="M603.82 862.30L611.62 870.10M611.62 862.30L603.82 870.10" class="m"/><path d="M607.72 862.10L607.72 870.30" class="m" style="stroke-width:1.2"/>
<circle cx="607.72" cy="876.10" r="3.6" class="m"/>
<text x="365.4" y="722.9" font-size="14.2" letter-spacing="0.7">(h)</text>
<text x="289" y="12.3" font-size="15" textLength="150" lengthAdjust="spacing">Plant dry mastter basis</text>
<text x="181.4" y="36.8" font-size="15" textLength="58.4" lengthAdjust="spacing">Japonica</text>
<text x="468" y="38.1" font-size="15" textLength="40.3" lengthAdjust="spacing">Indica</text>
<text x="295.3" y="245.2" font-size="15" textLength="138.4" lengthAdjust="spacing">Leaf area index basis</text>
<text x="293.6" y="469.7" font-size="15" textLength="139" lengthAdjust="spacing">Leaf dry matter basis</text>
<text x="292.2" y="689.4" font-size="15" textLength="142.2" lengthAdjust="spacing">Stem dry matter basis</text>
<text x="291" y="938.8" font-size="15" textLength="122" lengthAdjust="spacing">Crop growth stage</text>
<text x="95.06" y="913.7" font-size="15" text-anchor="middle">AT</text>
<text x="140.29" y="913.7" font-size="15" text-anchor="middle">MT</text>
<text x="185.51" y="913.7" font-size="15" text-anchor="middle">SE</text>
<text x="230.74" y="913.7" font-size="15" text-anchor="middle">PI</text>
<text x="275.96" y="913.7" font-size="15" text-anchor="middle">BT</text>
<text x="322.39" y="913.7" font-size="15" text-anchor="middle" letter-spacing="1.2">HD</text>
<text x="382.07" y="913.7" font-size="15" text-anchor="middle">AT</text>
<text x="427.40" y="913.7" font-size="15" text-anchor="middle">MT</text>
<text x="472.73" y="913.7" font-size="15" text-anchor="middle">SE</text>
<text x="518.07" y="913.7" font-size="15" text-anchor="middle">PI</text>
<text x="563.40" y="913.7" font-size="15" text-anchor="middle">BT</text>
<text x="609.93" y="913.7" font-size="15" text-anchor="middle" letter-spacing="1.2">HD</text>
<path d="M647.90 421.75L651.90 425.60L647.90 429.45L643.90 425.60Z" class="m"/>
<text x="654.6" y="430.60" font-size="15" >N0</text>
<rect x="644.45" y="444.90" width="6.9" height="6.9" class="m"/>
<text x="654.6" y="453.35" font-size="15" >N1</text>
<path d="M647.90 467.10L651.65 475.00L644.15 475.00Z" class="m"/>
<text x="654.6" y="476.10" font-size="15" >N2</text>
<path d="M643.70 489.75L652.10 497.95M652.10 489.75L643.70 497.95" class="m"/>
<text x="654.6" y="498.85" font-size="15" >N3</text>
<path d="M644.00 512.70L651.80 520.50M651.80 512.70L644.00 520.50" class="m"/><path d="M647.90 512.50L647.90 520.70" class="m" style="stroke-width:1.2"/>
<text x="654.6" y="521.60" font-size="15" >N4</text>
<circle cx="647.90" cy="539.35" r="3.6" class="m"/>
<text x="654.6" y="544.35" font-size="15" >N5</text>
<g transform="translate(19.1,0) rotate(-90)">
<text x="-600.0" y="0" font-size="14.5" textLength="52" lengthAdjust="spacingAndGlyphs">Nitrogen</text>
<text x="-547.4" y="0" font-size="14.5" textLength="83" lengthAdjust="spacing">requirement</text>
<text x="-458.8" y="0" font-size="14.5">(kg N ha</text>
<text x="-404.2" y="-5.5" font-size="9.5">-1</text>
<text x="-390.4" y="0" font-size="14.5" text-anchor="end">)</text>
</g>
</svg></body></html>
